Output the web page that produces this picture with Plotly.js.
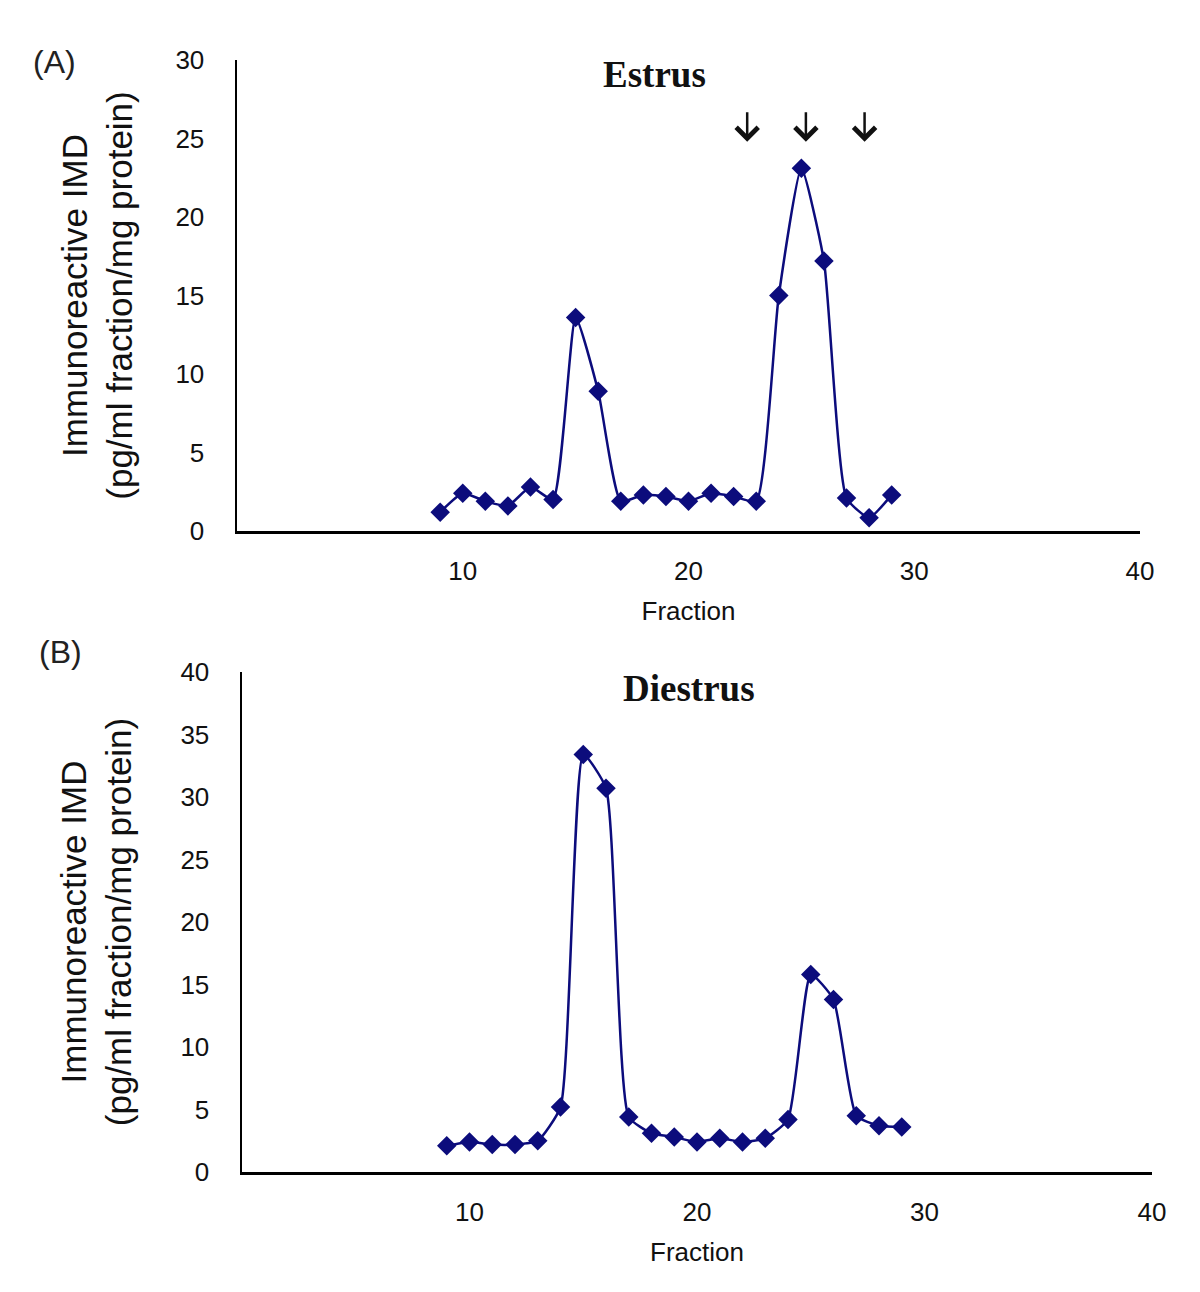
<!DOCTYPE html>
<html>
<head>
<meta charset="utf-8">
<script src="https://cdn.plot.ly/plotly-3.0.1.min.js"></script>
<style>html,body{margin:0;padding:0;background:#fff;}#chart{width:1200px;height:1292px;}</style>
</head>
<body>
<div id="chart"></div>
<script>
// Data
const fractions = [9, 10, 11, 12, 13, 14, 15, 16, 17, 18, 19, 20, 21, 22, 23, 24, 25, 26, 27, 28, 29];
const estrus = [1.2, 2.4, 1.9, 1.6, 2.8, 2.0, 13.6, 8.9, 1.9, 2.3, 2.2, 1.9, 2.4, 2.2, 1.9, 15.0, 23.1, 17.2, 2.1, 0.85, 2.3];
const diestrus = [2.1, 2.4, 2.2, 2.2, 2.5, 5.2, 33.4, 30.7, 4.4, 3.1, 2.8, 2.4, 2.7, 2.4, 2.7, 4.2, 15.8, 13.8, 4.5, 3.7, 3.6];
const xTicks = [10, 20, 30, 40];
const yTicksA = [0, 5, 10, 15, 20, 25, 30];
const yTicksB = [0, 5, 10, 15, 20, 25, 30, 35, 40];
const arrowFractions = [22.6, 25.2, 27.8];
const arrowTipLevel = 24.8;
const panelTitles = ['Estrus', 'Diestrus'];
const panelLabels = ['(A)', '(B)'];
const xTitle = 'Fraction';
const yTitle = 'Immunoreactive IMD<br>(pg/ml fraction/mg protein)';

const navy = '#0c0c7c';
const sans = '"Liberation Sans", Arial, sans-serif';
const serif = '"Liberation Serif", "Times New Roman", serif';
const W = 1200, H = 1292;
const px = v => v / W;
const py = v => 1 - v / H;

function series(y, xa, ya) {
  return {
    x: fractions, y: y, xaxis: xa, yaxis: ya,
    type: 'scatter', mode: 'lines+markers',
    line: {color: navy, width: 2.5, shape: 'spline', smoothing: 0.5},
    marker: {symbol: 'diamond', size: 15, color: navy},
    showlegend: false, hoverinfo: 'x+y'
  };
}

const data = [series(estrus, 'x', 'y'), series(diestrus, 'x2', 'y2')];

function xAxis(domain, anchor) {
  return {
    domain: domain, anchor: anchor, range: [0, 40],
    tickmode: 'array', tickvals: xTicks, ticktext: xTicks.map(String),
    showline: true, linecolor: '#000', linewidth: 2.5, mirror: false,
    showgrid: false, zeroline: false, ticks: '', ticklabelstandoff: 15,
    tickfont: {family: sans, size: 26, color: '#111'},
    title: {text: xTitle, font: {family: sans, size: 26, color: '#111'}, standoff: 17},
    automargin: false, fixedrange: true
  };
}
function yAxis(domain, anchor, range, ticks, standoff) {
  return {
    domain: domain, anchor: anchor, range: range,
    tickmode: 'array', tickvals: ticks, ticktext: ticks.map(String),
    showline: true, linecolor: '#000', linewidth: 2.5,
    showgrid: false, zeroline: false, ticks: '', ticklabelstandoff: 25,
    tickfont: {family: sans, size: 26, color: '#111'},
    title: {text: yTitle, font: {family: sans, size: 35, color: '#111'}, standoff: standoff},
    automargin: false, fixedrange: true
  };
}

const annotations = [];
annotations.push({xref: 'paper', yref: 'paper', x: px(54), y: py(62), text: panelLabels[0], showarrow: false,
  xanchor: 'center', yanchor: 'middle', font: {family: sans, size: 32, color: '#222'}});
annotations.push({xref: 'paper', yref: 'paper', x: px(60), y: py(652), text: panelLabels[1], showarrow: false,
  xanchor: 'center', yanchor: 'middle', font: {family: sans, size: 32, color: '#222'}});
annotations.push({xref: 'paper', yref: 'paper', x: px(654), y: py(74), text: '<b>' + panelTitles[0] + '</b>', showarrow: false,
  xanchor: 'center', yanchor: 'middle', font: {family: serif, size: 37, color: '#111'}});
annotations.push({xref: 'paper', yref: 'paper', x: px(689), y: py(688), text: '<b>' + panelTitles[1] + '</b>', showarrow: false,
  xanchor: 'center', yanchor: 'middle', font: {family: serif, size: 37, color: '#111'}});
arrowFractions.forEach(f => annotations.push({xref: 'x', yref: 'y', x: f, y: arrowTipLevel, text: '', showarrow: true,
  ax: 0, ay: -31, arrowhead: 4, arrowsize: 1.7, arrowwidth: 2.5, arrowcolor: '#111', standoff: 0, startstandoff: 0}));

const layout = {
  width: W, height: H,
  margin: {l: 0, r: 0, t: 0, b: 0},
  paper_bgcolor: '#fff', plot_bgcolor: '#fff',
  font: {family: sans, color: '#111'},
  xaxis: xAxis([px(237), px(1140)], 'y'),
  yaxis: yAxis([py(531), py(60)], 'x', [0, 30], yTicksA, 32),
  xaxis2: xAxis([px(242), px(1152)], 'y2'),
  yaxis2: yAxis([py(1172), py(672)], 'x2', [0, 40], yTicksB, 38),
  annotations: annotations,
  showlegend: false
};

Plotly.newPlot('chart', data, layout, {staticPlot: true, displayModeBar: false});
</script>
</body>
</html>
